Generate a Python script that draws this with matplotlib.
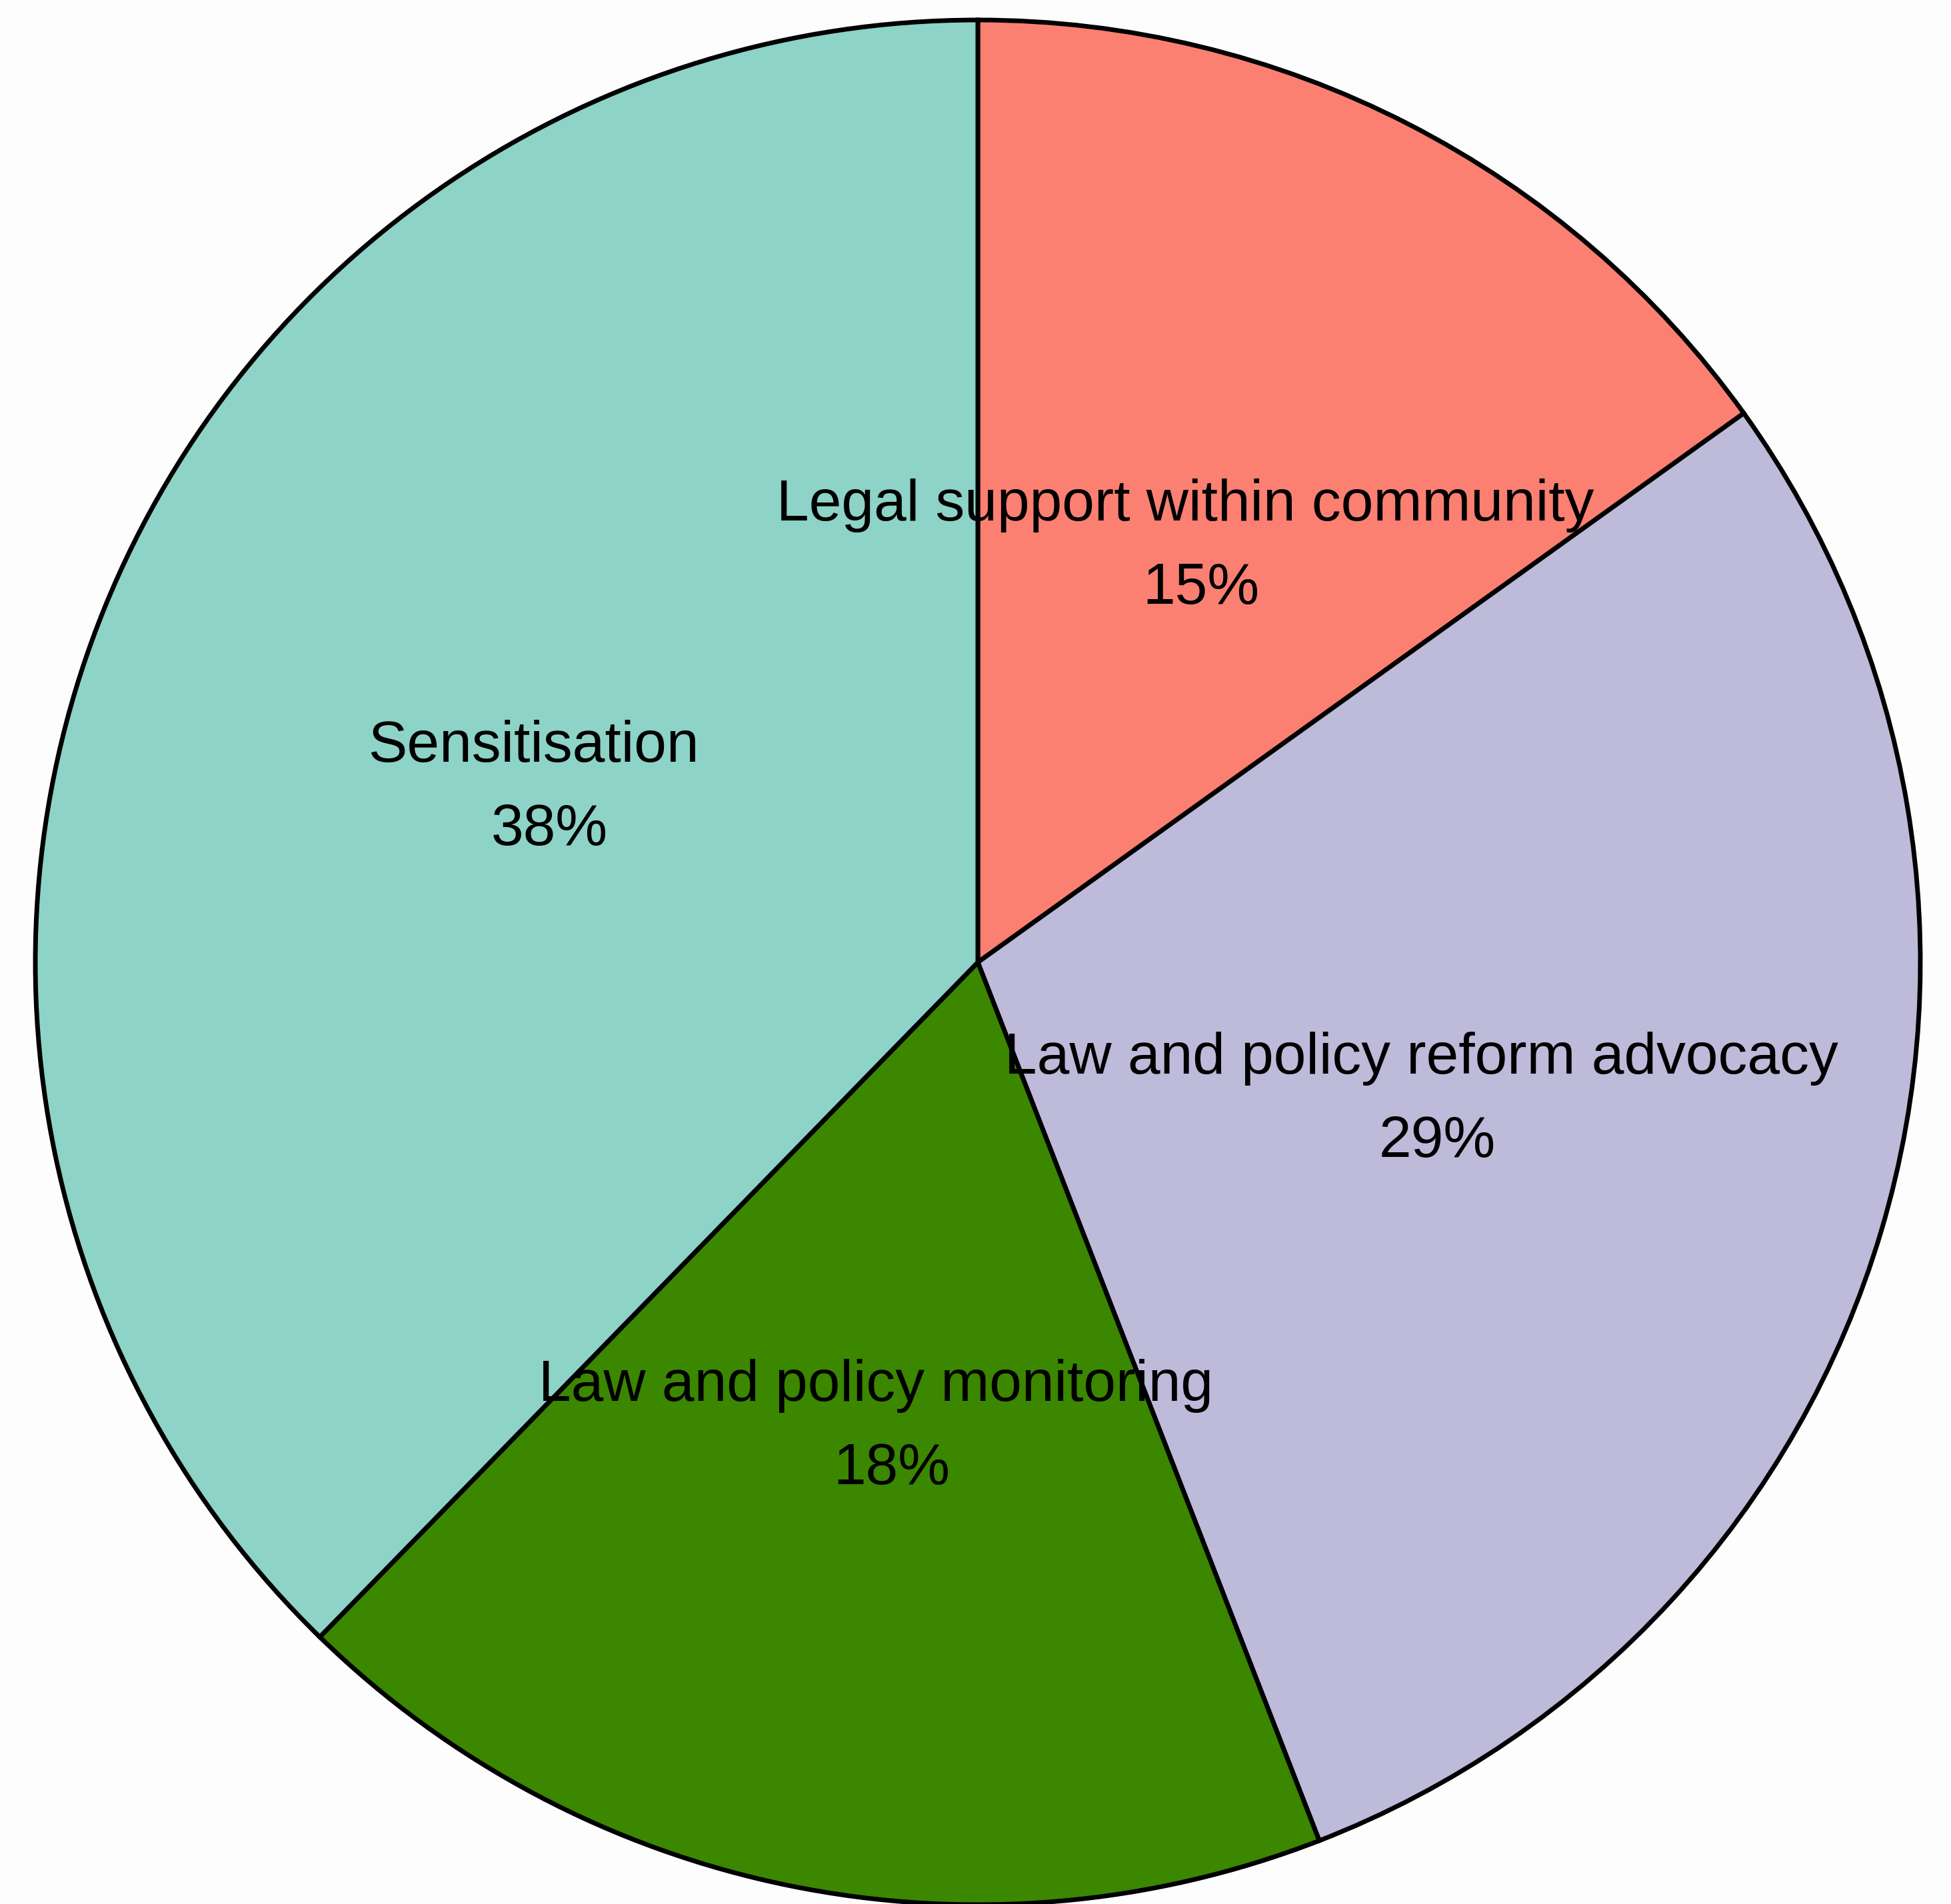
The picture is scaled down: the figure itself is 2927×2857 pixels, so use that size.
import numpy as np
import matplotlib
matplotlib.use("Agg")
import matplotlib.pyplot as plt

plt.rcParams['font.family'] = ['Liberation Sans', 'DejaVu Sans']

# data
categories = ['Legal support within community', 'Law and policy reform advocacy',
              'Law and policy monitoring', 'Sensitisation']
shares = [15.1, 29.0, 18.2, 37.7]
pct_labels = ['15%', '29%', '18%', '38%']
colors = ['#FB8072', '#BEBADA', '#3B8700', '#8DD3C7']

W, H = 2927, 2857
fig = plt.figure(figsize=(W / 100, H / 100), dpi=100, facecolor='#fdfdfd')
ax = fig.add_axes([0, 0, 1, 1])

cx, cy, r = 1467, H - 1444, 1414
wedges, _ = ax.pie(shares, colors=colors, startangle=90, counterclock=False,
                   center=(cx, cy), radius=r, normalize=True,
                   wedgeprops=dict(edgecolor='black', linewidth=5))
ax.set_xlim(0, W)
ax.set_ylim(0, H)
ax.set_aspect('equal')
ax.axis('off')

# labels sit at half the radius: name on top, percentage below
for w, cat, pct in zip(wedges, categories, pct_labels):
    mid = np.deg2rad((w.theta1 + w.theta2) / 2)
    x = cx + 0.5 * r * np.cos(mid)
    y = cy + 0.5 * r * np.sin(mid) - 5
    ax.text(x - 12, y + 62, cat, ha='center', va='center', fontsize=63, color='black')
    ax.text(x + 12, y - 63, pct, ha='center', va='center', fontsize=63, color='black')

fig.savefig('out.png', dpi=100, facecolor=fig.get_facecolor())
